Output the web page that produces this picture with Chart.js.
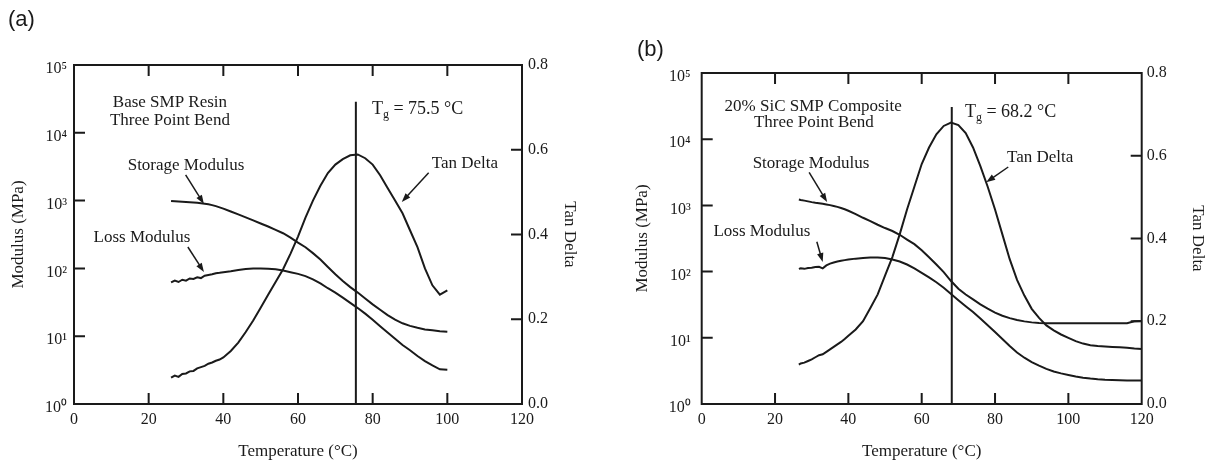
<!DOCTYPE html>
<html><head><meta charset="utf-8">
<script src="https://cdn.jsdelivr.net/npm/chart.js@4.4.0/dist/chart.umd.min.js"></script>
<style>
html,body{margin:0;padding:0;background:#fff;}
#wrap{position:relative;width:1215px;height:465px;overflow:hidden;background:#fff;}
#chartA{position:absolute;left:0;top:0;}
#chartB{position:absolute;left:610px;top:0;}
</style></head><body>
<div id="wrap">
<canvas id="chartA" width="600" height="465"></canvas>
<canvas id="chartB" width="605" height="465"></canvas>
</div>
<script>
// ---------- data: panel (a) Base SMP Resin ----------
const tempA = [26,27,28,29,30,31,32,33,34,35,36,37,38,39,40,42,44,46,48,50,52,54,56,58,60,62,64,66,68,70,72,74,76,78,80,82,84,86,88,90,92,94,96,98,100];
const storageA = [990,978,968,960,953,945,936,928,915,900,882,858,828,795,760,690,625,565,510,460,415,370,330,285,240,205,168,135,105,82,65,53,44,36,29.5,24.5,20.5,17.5,15.5,14.2,13.3,12.6,12.2,11.8,11.6];
const lossA = [62,66,63,68,66,71,70,74,72,78,80,82,85,86,88,91,95,98,100,100,99,97,93,88,83,77,69,60,51,44,37,31,26,21.5,17.5,14,11.3,9.2,7.4,6.2,5.1,4.3,3.7,3.25,3.2];
const tanA = [0.062,0.067,0.064,0.071,0.072,0.077,0.078,0.084,0.087,0.09,0.095,0.098,0.102,0.105,0.11,0.125,0.145,0.17,0.197,0.227,0.258,0.288,0.318,0.355,0.395,0.44,0.48,0.515,0.545,0.565,0.578,0.587,0.589,0.58,0.565,0.54,0.51,0.48,0.45,0.41,0.37,0.32,0.28,0.258,0.268];
const tgA = 75.5;
const tgTopA = 28800;

// ---------- data: panel (b) 20% SiC SMP Composite ----------
const tempB = [26.5,27,28,29,30,31,32,33,34,35,36,37,38,39,40,42,44,46,48,50,52,54,56,58,60,62,64,66,68,70,72,74,76,78,80,82,84,86,88,90,92,94,96,98,100,102,104,106,108,110,112,114,116,118,120];
const storageB = [1230,1210,1180,1150,1120,1095,1075,1055,1035,1010,980,950,915,875,830,740,650,580,510,455,410,360,305,260,210,165,128,98,72,55,45,38,32,27.5,24,21.5,19.8,18.6,17.7,17.1,16.8,16.6,16.6,16.6,16.6,16.6,16.6,16.6,16.6,16.6,16.6,16.6,16.6,17.8,17.9];
const lossB = [110,112,110,113,114,117,118,112,124,132,137,142,146,149,152,157,160,163,163,160,152,142,128,112,96,82,69,57,46,37,30,24.5,19.5,15.5,12.2,9.6,7.5,6.0,5.0,4.3,3.8,3.4,3.1,2.9,2.75,2.6,2.5,2.42,2.36,2.32,2.3,2.28,2.27,2.26,2.26];
const tanB = [0.095,0.098,0.1,0.104,0.108,0.113,0.118,0.12,0.126,0.132,0.138,0.144,0.15,0.157,0.165,0.18,0.2,0.232,0.265,0.31,0.355,0.41,0.47,0.525,0.58,0.62,0.652,0.672,0.68,0.674,0.655,0.62,0.575,0.525,0.47,0.41,0.35,0.3,0.262,0.23,0.208,0.19,0.178,0.168,0.16,0.152,0.146,0.142,0.14,0.139,0.138,0.137,0.136,0.134,0.133];
const tgB = 68.2;
const tgTopB = 30700;

// ---------- tick labels ----------
const tempTicks = [0,20,40,60,80,100,120];
const modulusTicks = [1,10,100,1000,10000,100000];
const tanTicks = [0,0.2,0.4,0.6,0.8];
const SUP = ['\u2070','\u00B9','\u00B2','\u00B3','\u2074','\u2075'];

const SERIF = "'Liberation Serif','Times New Roman',serif";
const SANS = "'Liberation Sans',Arial,sans-serif";
const INK = '#1a1a1a';

function pts(xs, ys){ return xs.map((x,i)=>({x:x, y:ys[i]})); }

const decorPlugin = {
  id:'decor',
  afterDraw(chart){
    const o = chart.options.plugins.decor;
    const ctx = chart.ctx, a = chart.chartArea;
    const sx = chart.scales.x, sy = chart.scales.y, sr = chart.scales.y1;
    ctx.save();
    ctx.strokeStyle = INK; ctx.fillStyle = INK;
    ctx.lineWidth = 2;
    ctx.strokeRect(a.left, a.top, a.right - a.left, a.bottom - a.top);
    const TL = 11;
    ctx.beginPath();
    sx.ticks.forEach(t=>{ if (t.value<=sx.min || t.value>=sx.max) return;
      const p = sx.getPixelForValue(t.value);
      ctx.moveTo(p, a.bottom); ctx.lineTo(p, a.bottom - TL);
      ctx.moveTo(p, a.top); ctx.lineTo(p, a.top + TL); });
    sy.ticks.forEach(t=>{ if (t.value<=sy.min || t.value>=sy.max) return;
      const p = sy.getPixelForValue(t.value);
      ctx.moveTo(a.left, p); ctx.lineTo(a.left + TL, p); });
    sr.ticks.forEach(t=>{ if (t.value<=sr.min || t.value>=sr.max) return;
      const p = sr.getPixelForValue(t.value);
      ctx.moveTo(a.right, p); ctx.lineTo(a.right - TL, p); });
    ctx.stroke();
    ctx.font = '17px ' + SERIF;
    ctx.textBaseline = 'middle';
    o.notes.forEach(n=>{
      ctx.textAlign = n.align || 'center';
      ctx.fillText(n.text, sx.getPixelForValue(n.x), sy.getPixelForValue(n.y));
    });
    let tx = sx.getPixelForValue(o.tg.x), ty = sy.getPixelForValue(o.tg.y);
    ctx.textAlign = 'left';
    ctx.font = '18px ' + SERIF; ctx.fillText('T', tx, ty); tx += ctx.measureText('T').width;
    ctx.font = '12px ' + SERIF; ctx.fillText('g', tx, ty + 5); tx += ctx.measureText('g').width;
    ctx.font = '18px ' + SERIF; ctx.fillText(' = ' + o.tg.text, tx, ty);
    ctx.lineWidth = 1.5;
    o.arrows.forEach(r=>{
      const x0 = sx.getPixelForValue(r.x0), y0 = sy.getPixelForValue(r.y0);
      const x1 = sx.getPixelForValue(r.x1), y1 = sy.getPixelForValue(r.y1);
      const ang = Math.atan2(y1 - y0, x1 - x0);
      ctx.beginPath(); ctx.moveTo(x0, y0); ctx.lineTo(x1 - 6*Math.cos(ang), y1 - 6*Math.sin(ang)); ctx.stroke();
      ctx.beginPath();
      ctx.moveTo(x1, y1);
      ctx.lineTo(x1 - 9*Math.cos(ang) + 3.2*Math.sin(ang), y1 - 9*Math.sin(ang) - 3.2*Math.cos(ang));
      ctx.lineTo(x1 - 9*Math.cos(ang) - 3.2*Math.sin(ang), y1 - 9*Math.sin(ang) + 3.2*Math.cos(ang));
      ctx.closePath(); ctx.fill();
    });
    ctx.font = '22px ' + SANS; ctx.textAlign = 'left'; ctx.textBaseline = 'middle';
    ctx.fillText(o.panel.text, o.panel.px, o.panel.py);
    ctx.restore();
  }
};

function makeChart(id, temps, st, lo, ta, tg, tgTop, g, decor){
  const lineDs = (data, axis) => ({data, yAxisID:axis, borderColor:INK, borderWidth:2, pointRadius:0, fill:false, tension:0});
  return new Chart(document.getElementById(id), {
    type:'line',
    data:{datasets:[
      lineDs(pts(temps, st), 'y'),
      lineDs(pts(temps, lo), 'y'),
      lineDs(pts(temps, ta), 'y1'),
      lineDs([{x:tg, y:1}, {x:tg, y:tgTop}], 'y')
    ]},
    options:{
      responsive:false, animation:false, devicePixelRatio:1,
      layout:{padding:{top:g.top, left:0, right:0, bottom:0}},
      plugins:{legend:{display:false}, tooltip:{enabled:false}, title:{display:false}, decor:decor},
      scales:{
        x:{type:'linear', min:0, max:120,
           afterBuildTicks:s=>{ s.ticks = tempTicks.map(v=>({value:v})); },
           grid:{display:false, drawTicks:false}, border:{display:false},
           ticks:{padding:6, font:{family:SERIF, size:16}, color:INK, maxRotation:0, callback:v=>String(v)},
           title:{display:true, text:'Temperature (\u00B0C)', font:{family:SERIF, size:17}, color:INK, padding:{top:0, bottom:2.8}},
           afterFit:s=>{ s.height = g.xh; }},
        y:{type:'logarithmic', position:'left', min:1, max:100000,
           afterBuildTicks:s=>{ s.ticks = modulusTicks.map(v=>({value:v})); },
           grid:{display:false, drawTicks:false}, border:{display:false},
           ticks:{padding:g.ylPad, labelOffset:4, font:{family:SERIF, size:16}, color:INK,
                  callback:v=>'10' + SUP[Math.round(Math.log10(v))]},
           title:{display:true, text:'Modulus (MPa)', font:{family:SERIF, size:17}, color:INK, padding:{top:g.ylTitle, bottom:0}},
           afterFit:s=>{ s.width = g.yw; }},
        y1:{type:'linear', position:'right', min:0, max:0.8,
           afterBuildTicks:s=>{ s.ticks = tanTicks.map(v=>({value:v})); },
           grid:{display:false, drawTicks:false}, border:{display:false},
           ticks:{padding:g.yrPad, font:{family:SERIF, size:16}, color:INK, callback:v=>Number(v).toFixed(1)},
           title:{display:true, text:'Tan Delta', font:{family:SERIF, size:17}, color:INK, padding:{top:g.yrTitle, bottom:0}},
           afterFit:s=>{ s.width = g.yrw; }}
      }
    },
    plugins:[decorPlugin]
  });
}

makeChart('chartA', tempA, storageA, lossA, tanA, tgA, tgTopA,
  {top:65, xh:61, yw:74, yrw:78, ylPad:7, yrPad:6, ylTitle:8.8, yrTitle:20.8},
  {
    notes:[
      {text:'Base SMP Resin', x:25.7, y:Math.pow(10,4.44)},
      {text:'Three Point Bend', x:25.7, y:Math.pow(10,4.174)},
      {text:'Storage Modulus', x:30.0, y:Math.pow(10,3.51)},
      {text:'Loss Modulus', x:18.2, y:Math.pow(10,2.45)},
      {text:'Tan Delta', x:104.7, y:Math.pow(10,3.54)}
    ],
    tg:{text:'75.5 \u00B0C', x:79.8, y:Math.pow(10,4.34)},
    arrows:[
      {x0:29.9, y0:Math.pow(10,3.38), x1:34.8, y1:Math.pow(10,2.95)},
      {x0:30.5, y0:Math.pow(10,2.316), x1:34.8, y1:Math.pow(10,1.947)},
      {x0:95.0, y0:Math.pow(10,3.41), x1:87.8, y1:Math.pow(10,2.98)}
    ],
    panel:{text:'(a)', px:8, py:20}
  });

makeChart('chartB', tempB, storageB, lossB, tanB, tgB, tgTopB,
  {top:73, xh:61, yw:91.7, yrw:73.3, ylPad:11, yrPad:5, ylTitle:22.8, yrTitle:7.8},
  {
    notes:[
      {text:'20% SiC SMP Composite', x:30.4, y:Math.pow(10,4.50)},
      {text:'Three Point Bend', x:30.6, y:Math.pow(10,4.245)},
      {text:'Storage Modulus', x:29.8, y:Math.pow(10,3.64)},
      {text:'Loss Modulus', x:16.4, y:Math.pow(10,2.60)},
      {text:'Tan Delta', x:92.3, y:Math.pow(10,3.72)}
    ],
    tg:{text:'68.2 \u00B0C', x:71.8, y:Math.pow(10,4.40)},
    arrows:[
      {x0:29.3, y0:Math.pow(10,3.50), x1:34.2, y1:Math.pow(10,3.05)},
      {x0:31.4, y0:Math.pow(10,2.45), x1:33.0, y1:Math.pow(10,2.145)},
      {x0:83.6, y0:Math.pow(10,3.58), x1:77.6, y1:Math.pow(10,3.35)}
    ],
    panel:{text:'(b)', px:27, py:50}
  });
</script>
</body></html>
